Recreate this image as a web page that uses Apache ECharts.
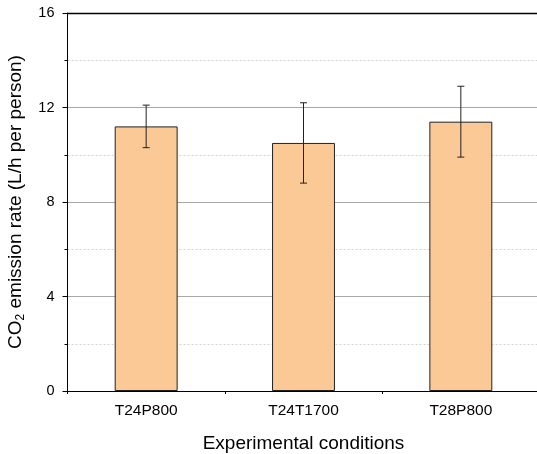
<!DOCTYPE html>
<html><head><meta charset="utf-8">
<script src="https://cdn.jsdelivr.net/npm/echarts@6/dist/echarts.min.js"></script>
<style>html,body{margin:0;padding:0;background:#fff}#c{width:537px;height:454px}</style>
</head><body><div id="c"></div>
<script>
var categories = ['T24P800', 'T24T1700', 'T28P800'];
var means = [11.2, 10.5, 11.4];
var errLow = [10.3, 8.8, 9.9];
var errHigh = [12.1, 12.2, 12.9];
var yTicks = [0, 4, 8, 12, 16];

var font = 'Liberation Sans, Arial, sans-serif';
var chart = echarts.init(document.getElementById('c'), null, {renderer: 'canvas'});
var errData = categories.map(function (c, i) { return [i, errLow[i], errHigh[i]]; });

chart.setOption({
  animation: false,
  grid: {left: 67.5, top: 13, right: -2.5, bottom: 63, containLabel: false, outerBoundsMode: 'none'},
  xAxis: [{
    type: 'category', data: categories, position: 'bottom',
    axisLine: {lineStyle: {color: '#000', width: 1}},
    axisTick: {alignWithLabel: true, length: 5, lineStyle: {color: '#000'}},
    axisLabel: {color: '#000', fontSize: 15.5, fontFamily: font, margin: 12},
    name: 'Experimental conditions', nameLocation: 'middle', nameGap: 43,
    nameTextStyle: {color: '#000', fontSize: 19, fontFamily: font}
  }, {
    type: 'category', data: categories, position: 'bottom',
    axisLine: {show: false},
    axisTick: {show: true, length: 3, lineStyle: {color: '#000'}},
    axisLabel: {show: false}
  }, {
    type: 'category', data: categories, position: 'top',
    axisLine: {show: true, lineStyle: {color: '#000', width: 1.3}},
    axisTick: {show: false}, axisLabel: {show: false}
  }],
  yAxis: {
    type: 'value', min: yTicks[0], max: yTicks[yTicks.length - 1], interval: 4,
    axisLine: {show: true, lineStyle: {color: '#000', width: 1}},
    axisTick: {show: true, length: 5, lineStyle: {color: '#000'}},
    minorTick: {show: true, splitNumber: 2, length: 3, lineStyle: {color: '#000'}},
    axisLabel: {color: '#000', fontSize: 14.5, fontFamily: font, margin: 13},
    splitLine: {show: true, lineStyle: {color: '#a8a8a8', width: 1}},
    minorSplitLine: {show: true, lineStyle: {color: '#d0d0d0', type: [2, 2], width: 1}},
    name: '{n|CO}{s|2}{n| emission rate (L/h per person)}',
    nameLocation: 'middle', nameGap: 41, nameRotate: 90,
    nameTextStyle: {
      color: '#000', fontSize: 19, fontFamily: font,
      rich: {
        n: {fontSize: 19, fontFamily: font, color: '#000'},
        s: {fontSize: 12, fontFamily: font, color: '#000', padding: [10, 0, 0, 0]}
      }
    }
  },
  series: [{
    type: 'bar', data: means, barWidth: '40%', xAxisIndex: 0,
    itemStyle: {color: '#fbc995', borderColor: '#222', borderWidth: 1}
  }, {
    type: 'custom', xAxisIndex: 0, data: errData, z: 10,
    renderItem: function (params, api) {
      var x = api.value(0);
      var lo = api.coord([x, api.value(1)]);
      var hi = api.coord([x, api.value(2)]);
      var w = 3.5;
      var st = {stroke: '#222', lineWidth: 1};
      return {type: 'group', children: [
        {type: 'line', shape: {x1: lo[0], y1: lo[1], x2: hi[0], y2: hi[1]}, style: st},
        {type: 'line', shape: {x1: lo[0] - w, y1: lo[1], x2: lo[0] + w, y2: lo[1]}, style: st},
        {type: 'line', shape: {x1: hi[0] - w, y1: hi[1], x2: hi[0] + w, y2: hi[1]}, style: st}
      ]};
    }
  }]
});
</script></body></html>
